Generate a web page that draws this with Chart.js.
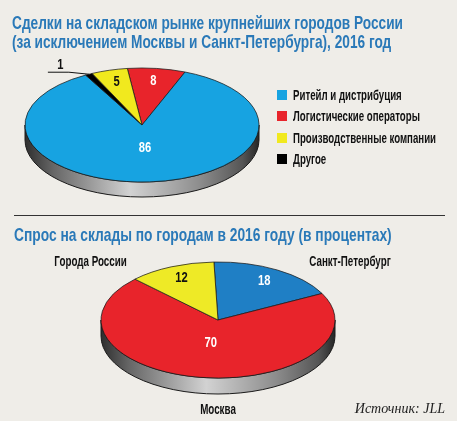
<!DOCTYPE html>
<html lang="ru">
<head>
<meta charset="utf-8">
<title>Складской рынок, 2016</title>
<script src="https://cdn.jsdelivr.net/npm/chart.js@4.4.1/dist/chart.umd.min.js"></script>
<style>
    html, body {
        margin: 0;
        padding: 0;
        width: 457px;
        height: 425px;
        overflow: hidden;
        background: #ffffff;
    }
    .panel {
        position: absolute;
        left: 0;
        top: 0;
        width: 457px;
        height: 421px;
        background: #efede8;
    }
    .narrow {
        font-family: "Liberation Sans", Arial, sans-serif;
        font-weight: bold;
        transform-origin: 0 0;
    }
    .title {
        position: absolute;
        color: #2a79b8;
        font-size: 19px;
        line-height: 19px;
        white-space: nowrap;
    }
    .chart-box {
        position: absolute;
        left: 0;
        width: 457px;
        height: 240px;
    }
    .legend {
        position: absolute;
        left: 277px;
        top: 84px;
        font-size: 14px;
        color: #111;
    }
    .legend-row {
        height: 21.5px;
        display: flex;
        align-items: center;
        white-space: nowrap;
    }
    .legend-box {
        width: 10px;
        height: 10px;
        margin-right: 6px;
        flex: none;
    }
    .legend-text {
        display: inline-block;
        transform-origin: 0 50%;
    }
    .rule {
        position: absolute;
        left: 14px;
        top: 215px;
        width: 431px;
        height: 1px;
        background: #333;
    }
    .source {
        position: absolute;
        right: 12px;
        top: 401px;
        font-family: "Liberation Serif", "DejaVu Serif", serif;
        font-style: italic;
        font-size: 14px;
        color: #222;
    }
</style>
</head>
<body>
<div class="panel">
    <div class="chart-box" style="top:0"><canvas id="dealsChart"></canvas></div>
    <div class="chart-box" style="top:200px"><canvas id="cityChart"></canvas></div>

    <div class="title narrow" id="title1" data-width="391" style="left:12px; top:13px">Сделки на складском рынке крупнейших городов России<br>(за исключением Москвы и Санкт-Петербурга), 2016 год</div>
    <div class="legend narrow" id="dealsLegend"></div>
    <div class="rule"></div>
    <div class="title narrow" id="title2" data-width="378" style="left:14px; top:225px">Спрос на склады по городам в 2016 году (в процентах)</div>
    <div class="source">Источник: JLL</div>
</div>

<script>
// Chart 1: deals by tenant type, % (legend order)
const dealCategories = ['Ритейл и дистрибуция', 'Логистические операторы', 'Производственные компании', 'Другое'];
const dealShares = [86, 8, 5, 1];
const dealColors = ['#17a3e1', '#e8242b', '#f1e91e', '#000000'];
const dealDrawOrder = [1, 0, 3, 2]; // clockwise from the top: red, blue, black, yellow

// Chart 2: demand by city, % (clockwise from the top)
const cityCategories = ['Санкт-Петербург', 'Москва', 'Города России'];
const cityShares = [18, 70, 12];
const cityColors = ['#1f7fc5', '#e8242b', '#eeea26'];

const LABEL_FONT = 'bold 14px "Liberation Sans", Arial, sans-serif';
const NAME_FONT = 'bold 14px "Liberation Sans", Arial, sans-serif';
const CONDENSE = 0.8;
const NAME_CONDENSE = 0.7;
const LIGHT_BG = ['#f1e91e', '#eeea26'];

// draw text squeezed horizontally, like a condensed face
function condensedText(ctx, text, x, y, k) {
    ctx.save();
    ctx.translate(x, y);
    ctx.scale(k, 1);
    ctx.fillText(text, 0, 0);
    ctx.restore();
}

// Squashes the pie into an ellipse and adds a grey side wall
const tiltPlugin = {
    id: 'tilt',
    beforeDatasetsDraw(chart, args, opts) {
        const arc = chart.getDatasetMeta(0).data[0];
        if (!arc) return;
        const { x, y, outerRadius: r } = arc.getProps(['x', 'y', 'outerRadius'], true);
        const ry = r * opts.squash;
        const ty = opts.cy;
        const ctx = chart.ctx;

        ctx.save();
        const g = ctx.createLinearGradient(x - r, 0, x + r, 0);
        g.addColorStop(0, '#2e2e2e');
        g.addColorStop(0.12, '#666');
        g.addColorStop(0.45, '#d2d2d2');
        g.addColorStop(0.75, '#8c8c8c');
        g.addColorStop(0.93, '#555');
        g.addColorStop(1, '#262626');
        ctx.beginPath();
        ctx.moveTo(x + r, ty);
        ctx.lineTo(x + r, ty + opts.depth);
        ctx.ellipse(x, ty + opts.depth, r, ry, 0, 0, Math.PI);
        ctx.lineTo(x - r, ty);
        ctx.ellipse(x, ty, r, ry, 0, Math.PI, 0, true);
        ctx.closePath();
        ctx.fillStyle = g;
        ctx.fill();
        ctx.strokeStyle = '#1a1a1a';
        ctx.lineWidth = 1;
        ctx.stroke();
        ctx.restore();

        ctx.save();
        ctx.translate(0, ty);
        ctx.scale(1, opts.squash);
        ctx.translate(0, -y);
    },
    afterDatasetsDraw(chart, args, opts) {
        const ctx = chart.ctx;
        ctx.restore();

        const ds = chart.data.datasets[0];
        const meta = chart.getDatasetMeta(0);
        const ty = opts.cy;

        meta.data.forEach((arc, i) => {
            const { x, startAngle, endAngle, outerRadius: r } =
                arc.getProps(['x', 'startAngle', 'endAngle', 'outerRadius'], true);
            const mid = (startAngle + endAngle) / 2;
            const value = ds.data[i];
            const pos = f => ({
                x: x + Math.cos(mid) * r * f,
                y: ty + Math.sin(mid) * r * f * opts.squash
            });

            ctx.save();
            ctx.font = LABEL_FONT;
            ctx.textAlign = 'center';
            ctx.textBaseline = 'middle';

            if (value < 3) {
                // tiny slice: leader line to the left
                const e = pos(1);
                const p1 = { x: e.x - 20, y: e.y - 2 };
                const p2 = { x: p1.x - 21, y: p1.y };
                ctx.strokeStyle = '#111';
                ctx.lineWidth = 1;
                ctx.beginPath();
                ctx.moveTo(e.x, e.y);
                ctx.lineTo(p1.x, p1.y);
                ctx.lineTo(p2.x, p2.y);
                ctx.stroke();
                ctx.fillStyle = '#111';
                condensedText(ctx, String(value), (p1.x + p2.x) / 2 + 2, p1.y - 7, CONDENSE);
            } else {
                const p = pos(value > 50 ? 0.4 : 0.78);
                ctx.fillStyle = LIGHT_BG.includes(ds.backgroundColor[i]) ? '#111' : '#fff';
                condensedText(ctx, String(value), p.x, p.y, CONDENSE);
            }

            if (opts.names) {
                // slice names outside the pie
                ctx.font = NAME_FONT;
                ctx.fillStyle = '#111';
                const ry = r * opts.squash;
                if (Math.sin(mid) < 0) {
                    const right = Math.cos(mid) > 0;
                    ctx.textAlign = right ? 'left' : 'right';
                    condensedText(ctx, chart.data.labels[i], x + (right ? 1 : -1) * r * 0.78, ty - ry, NAME_CONDENSE);
                } else {
                    condensedText(ctx, chart.data.labels[i], x, ty + ry + opts.depth + 16, NAME_CONDENSE);
                }
            }
            ctx.restore();
        });
    }
};

function makeTiltedPie(canvasId, geo, labels, values, colors, rotation, names) {
    const bw = 1;
    return new Chart(document.getElementById(canvasId), {
        type: 'pie',
        data: {
            labels: labels,
            datasets: [{
                data: values,
                backgroundColor: colors,
                borderColor: '#1a1a1a',
                borderWidth: bw
            }]
        },
        options: {
            responsive: true,
            maintainAspectRatio: false,
            animation: false,
            events: [],
            rotation: rotation,
            layout: {
                padding: {
                    left: geo.cx - geo.rx - bw / 2,
                    right: 457 - geo.cx - geo.rx - bw / 2,
                    top: 2,
                    bottom: 240 - 2 - 2 * geo.rx - bw
                }
            },
            plugins: {
                legend: { display: false },
                tooltip: { enabled: false },
                tilt: {
                    cy: geo.cy,
                    squash: geo.ry / geo.rx,
                    depth: geo.depth,
                    names: names
                }
            }
        },
        plugins: [tiltPlugin]
    });
}

// squeeze an element horizontally so it spans the given width
function fitWidth(el, target) {
    const w = el.scrollWidth;
    if (w > 0) el.style.transform = `scaleX(${target / w})`;
}

document.addEventListener('DOMContentLoaded', () => {
    // chart 1 in drawing order
    const drawLabels = dealDrawOrder.map(i => dealCategories[i]);
    const drawValues = dealDrawOrder.map(i => dealShares[i]);
    const drawColors = dealDrawOrder.map(i => dealColors[i]);
    makeTiltedPie('dealsChart', { cx: 142, cy: 125, rx: 117, ry: 57, depth: 15 },
        drawLabels, drawValues, drawColors, -7.2, false);

    makeTiltedPie('cityChart', { cx: 218, cy: 120, rx: 117, ry: 58, depth: 16 },
        cityCategories, cityShares, cityColors, -2, true);

    // HTML legend for chart 1
    const legend = document.getElementById('dealsLegend');
    legend.innerHTML = dealCategories.map((name, i) => `
        <div class="legend-row">
            <span class="legend-box" style="background:${dealColors[i]}"></span><span class="legend-text">${name}</span>
        </div>`).join('');

    // condensed look for titles and legend
    fitWidth(document.getElementById('title1'), +document.getElementById('title1').dataset.width);
    fitWidth(document.getElementById('title2'), +document.getElementById('title2').dataset.width);
    const texts = [...legend.querySelectorAll('.legend-text')];
    const longest = Math.max(...texts.map(t => t.scrollWidth));
    const k = 143 / longest;
    texts.forEach(t => { t.style.transform = `scaleX(${k})`; });
});
</script>
</body>
</html>
